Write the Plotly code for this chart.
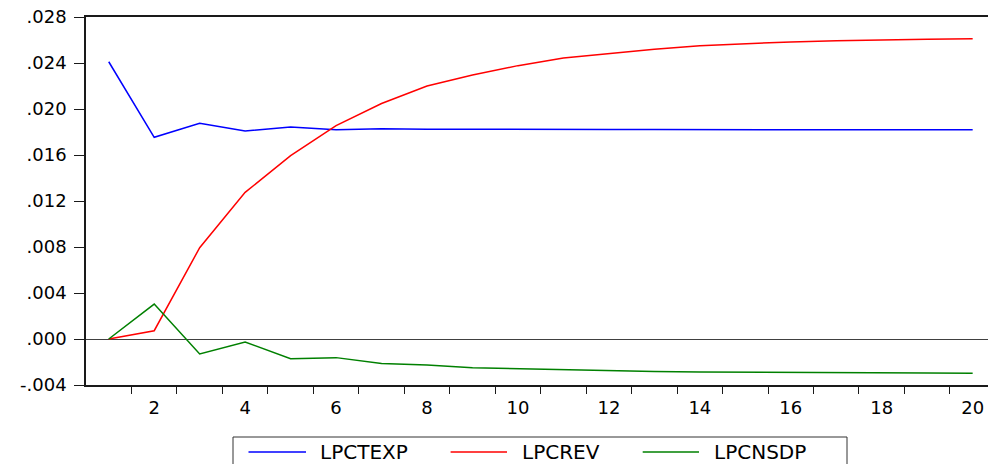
import plotly.graph_objects as go

# ---- data ----
periods = list(range(1, 21))
series_names = ["LPCTEXP", "LPCREV", "LPCNSDP"]
series_colors = ["#0000FF", "#FF0000", "#008000"]
lpctexp = [0.02411, 0.01754, 0.01876, 0.01809, 0.01843, 0.01820, 0.01829, 0.01823,
           0.01825, 0.01822, 0.01822, 0.01821, 0.01821, 0.01820, 0.01820, 0.01820,
           0.01820, 0.01820, 0.01820, 0.01820]
lpcrev = [0.0, 0.00072, 0.00794, 0.01275, 0.01594, 0.01855, 0.02048, 0.02200,
          0.02296, 0.02377, 0.02443, 0.02484, 0.02519, 0.02551, 0.02568, 0.02583,
          0.02594, 0.02603, 0.02606, 0.02611]
lpcnsdp = [0.0, 0.00304, -0.00130, -0.00026, -0.00171, -0.00162, -0.00214, -0.00226,
           -0.00249, -0.00258, -0.00268, -0.00276, -0.00282, -0.00286, -0.00289,
           -0.00292, -0.00294, -0.00295, -0.00296, -0.00297]
y_tick_vals = [-0.004, 0.0, 0.004, 0.008, 0.012, 0.016, 0.020, 0.024, 0.028]
y_tick_text = ["-.004", ".000", ".004", ".008", ".012", ".016", ".020", ".024", ".028"]
x_tick_vals = [2, 4, 6, 8, 10, 12, 14, 16, 18, 20]
x_tick_text = [str(v) for v in x_tick_vals]
x_minor_ticks = [v + 0.5 for v in range(1, 21)]

W, H = 988, 464
ML, MR, MT, MB = 86, 0, 17, 79
PW, PH = W - ML - MR, H - MT - MB

def px_x(px):
    return (px - ML) / PW

def px_y(py):
    return (H - MB - py) / PH

FONT = "DejaVu Sans"

fig = go.Figure()
for name, vals, col in zip(series_names, [lpctexp, lpcrev, lpcnsdp], series_colors):
    fig.add_trace(go.Scatter(x=periods, y=vals, mode="lines", name=name,
                             line=dict(color=col, width=1.5), showlegend=False))

fig.update_layout(
    width=W, height=H,
    margin=dict(l=ML, r=MR, t=MT, b=MB),
    paper_bgcolor="white", plot_bgcolor="white",
    font=dict(family=FONT, size=18, color="black"),
)
fig.update_xaxes(
    range=[0.5, 0.5 + PW / 45.47],
    tickmode="array", tickvals=x_tick_vals, ticktext=x_tick_text,
    ticks="", showgrid=False, zeroline=False,
    showline=True, linecolor="#1a1a1a", linewidth=1.5, mirror=True,
    ticklabelstandoff=6,
    minor=dict(tickmode="array", tickvals=x_minor_ticks, ticks="outside",
               ticklen=7, tickwidth=1, tickcolor="#1a1a1a", showgrid=False),
)
fig.update_yaxes(
    range=[-0.004, 0.028],
    tickmode="array", tickvals=y_tick_vals, ticktext=y_tick_text,
    ticks="outside", ticklen=10, tickwidth=1, tickcolor="#1a1a1a",
    showgrid=False, zeroline=True, zerolinecolor="#404040", zerolinewidth=1,
    showline=True, linecolor="#1a1a1a", linewidth=1.5, mirror=False,
    ticklabelstandoff=4,
)

# legend box (drawn manually to match the original layout)
fig.add_shape(type="rect", xref="paper", yref="paper",
              x0=px_x(233), x1=px_x(847), y0=px_y(437), y1=px_y(475),
              line=dict(color="#333333", width=1), fillcolor="white")
leg_items = [(248.5, 306, 318), (450.6, 507, 519.5), (642.7, 699, 711.6)]
leg_y = 452
for (lx0, lx1, tx), name, col in zip(leg_items, series_names, series_colors):
    fig.add_shape(type="line", xref="paper", yref="paper",
                  x0=px_x(lx0), x1=px_x(lx1), y0=px_y(leg_y), y1=px_y(leg_y),
                  line=dict(color=col, width=1.5))
    fig.add_annotation(xref="paper", yref="paper", x=px_x(tx), y=px_y(leg_y),
                       text=name, showarrow=False, xanchor="left", yanchor="middle",
                       font=dict(family=FONT, size=20, color="black"))

fig.write_html("out.html", config={"displayModeBar": False},
               post_script="document.body.style.margin='0';document.body.style.padding='0';")
